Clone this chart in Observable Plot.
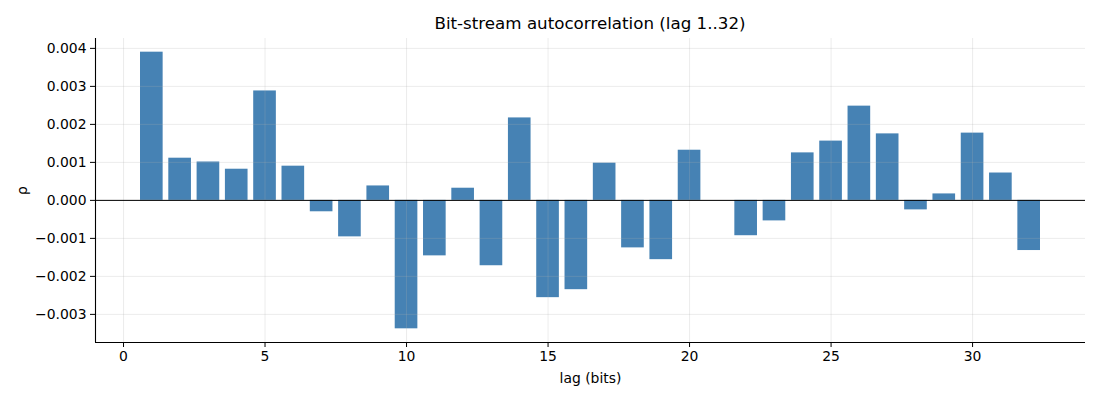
<!DOCTYPE html>
<html>
<head>
<meta charset="utf-8">
<script src="https://cdn.jsdelivr.net/npm/d3@7"></script>
<script src="https://cdn.jsdelivr.net/npm/@observablehq/plot@0.6"></script>
<style>
  html, body { margin: 0; padding: 0; background: #fff; }
  #title {
    width: 1100px; height: 38px; box-sizing: border-box;
    padding: 12px 15px 0 95px; text-align: center;
    font-family: "DejaVu Sans", sans-serif; font-size: 16.7px; line-height: 22px; color: #000;
  }
</style>
</head>
<body>
<div id="title">Bit-stream autocorrelation (lag 1..32)</div>
<div id="chart"></div>
<script>
const lags = d3.range(1, 33);
const rho = [
  0.00390, 0.00111, 0.00101, 0.00082, 0.00288, 0.00090, -0.00030, -0.00096,
  0.00038, -0.00338, -0.00146, 0.00032, -0.00172, 0.00217, -0.00256, -0.00235,
  0.00098, -0.00125, -0.00156, 0.00132, 0.00000, -0.00093, -0.00054, 0.00125,
  0.00156, 0.00248, 0.00175, -0.00025, 0.00017, 0.00177, 0.00072, -0.00132
];
const xTicks = [0, 5, 10, 15, 20, 25, 30];
const yTicks = [-0.003, -0.002, -0.001, 0, 0.001, 0.002, 0.003, 0.004];
const barWidth = 0.8;
const xDomain = [-0.99, 33.99];
const yDomain = [-0.00374, 0.00426];

const data = lags.map((l, i) => ({lag: l, rho: rho[i]}));

const chart = Plot.plot({
  width: 1100,
  height: 362,
  marginTop: 0,
  marginLeft: 95,
  marginRight: 15,
  marginBottom: 58,
  style: {fontFamily: "DejaVu Sans, sans-serif", fontSize: "13.9px", color: "#000", background: "#fff"},
  x: {domain: xDomain},
  y: {domain: yDomain},
  marks: [
    Plot.rectY(data, {x1: d => d.lag - barWidth / 2, x2: d => d.lag + barWidth / 2, y: "rho", fill: "#4682b4"}),
    Plot.gridX(xTicks, {stroke: "#b0b0b0", strokeOpacity: 0.3, strokeWidth: 0.8}),
    Plot.gridY(yTicks, {stroke: "#b0b0b0", strokeOpacity: 0.3, strokeWidth: 0.8}),
    Plot.ruleY([0], {stroke: "#000", strokeWidth: 1}),
    Plot.axisX(xTicks, {tickSize: 5, tickPadding: 4, label: "lag (bits)", labelAnchor: "center", labelArrow: "none", labelOffset: 40}),
    Plot.axisY(yTicks, {tickSize: 5, tickPadding: 4, tickFormat: d3.format(".3f"), label: "ρ", labelAnchor: "center", labelArrow: "none", labelOffset: 78}),
    Plot.ruleX([xDomain[0]], {stroke: "#000", strokeWidth: 1.1}),
    Plot.ruleY([yDomain[0]], {stroke: "#000", strokeWidth: 1.1})
  ]
});
document.getElementById("chart").appendChild(chart);
</script>
</body>
</html>
